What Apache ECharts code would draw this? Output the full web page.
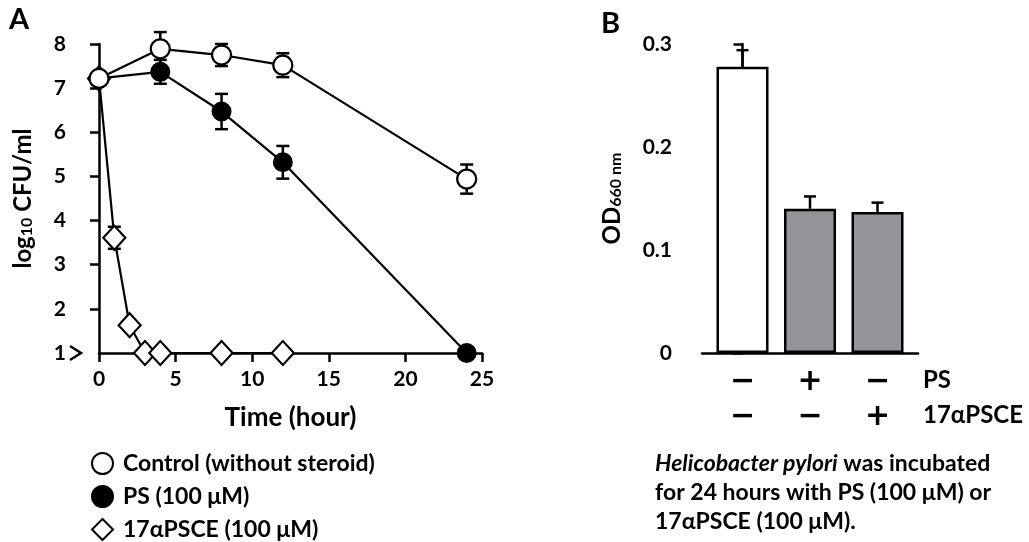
<!DOCTYPE html>
<html>
<head>
<meta charset="utf-8">
<script src="https://cdn.jsdelivr.net/npm/echarts@6/dist/echarts.min.js"></script>
<style>
  html, body { margin: 0; padding: 0; background: #fff; }
  #chart { width: 1029px; height: 542px; }
</style>
</head>
<body>
<div id="chart"></div>
<script>
// ---- Panel A: viability time course (log10 CFU/ml) ----
const controlPoints = [[0, 7.22], [4, 7.89], [8, 7.75], [12, 7.52], [24, 4.94]];
const controlErr = [0, 0.38, 0.25, 0.27, 0.33];
const psPoints = [[0, 7.22], [4, 7.37], [8, 6.47], [12, 5.32], [24, 1.0]];
const psErr = [0, 0.27, 0.40, 0.37, 0];
const psceCurvePoints = [[0, 7.22], [1, 3.61], [2, 1.63], [3, 1.0], [4, 1.0], [8, 1.0], [12, 1.0]];
const psceErr = [0, 0.25, 0, 0, 0, 0, 0];
const xTicksA = [0, 5, 10, 15, 20, 25];
const yTicksA = [1, 2, 3, 4, 5, 6, 7, 8];
const seriesNamesA = ['Control (without steroid)', 'PS (100 μM)', '17αPSCE (100 μM)'];

// ---- Panel B: OD660 after 24 h ----
const barGroups = [0, 1, 2];
const odValues = [0.278, 0.140, 0.137];
const odErr = [0.016, 0.012, 0.009];
const psRow = ['−', '+', '−'];
const psceRow = ['−', '−', '+'];
const rowNames = ['PS', '17αPSCE'];

const FONT = 'Lato, "Open Sans", sans-serif';
const SIGN_FONT = '"DejaVu Sans", sans-serif';
const INK = '#000';
const GRAY = '#939598';

// layout of the two panels (pixels)
const A = { left: 99, right: 547, top: 44, bottom: 189, yOffset: 17 };
const B = { left: 702, right: 111, top: 44, bottom: 189, yOffset: 14 };

const chart = echarts.init(document.getElementById('chart'), null, { renderer: 'canvas' });

function errorBarItem(capHalf, upOnly) {
  return function (params, api) {
    const x = api.value(0), y = api.value(1), e = api.value(2);
    if (!e) return null;
    const top = api.coord([x, y + e]);
    const bot = api.coord([x, upOnly ? y : y - e]);
    const style = { stroke: INK, lineWidth: 2.5 };
    const children = [
      { type: 'line', shape: { x1: top[0], y1: top[1], x2: bot[0], y2: bot[1] }, style },
      { type: 'line', shape: { x1: top[0] - capHalf, y1: top[1], x2: top[0] + capHalf, y2: top[1] }, style }
    ];
    if (!upOnly) {
      children.push({ type: 'line', shape: { x1: bot[0] - capHalf, y1: bot[1], x2: bot[0] + capHalf, y2: bot[1] }, style });
    }
    return { type: 'group', children };
  };
}

function withErr(points, errs) {
  return points.map((p, i) => [p[0], p[1], errs[i]]);
}

const axisLine = { lineStyle: { color: INK, width: 2.5 } };
const labelFont = { fontFamily: FONT, fontWeight: 'bold', fontSize: 21, color: INK };
const titleRich = {
  a: { fontFamily: FONT, fontWeight: 'bold', fontSize: 24, color: INK, lineHeight: 28, verticalAlign: 'bottom' },
  s: { fontFamily: FONT, fontWeight: 'bold', fontSize: 16, color: INK, lineHeight: 18, verticalAlign: 'bottom' }
};

const option = {
  animation: false,
  backgroundColor: '#fff',
  grid: [
    { left: A.left, right: A.right, top: A.top, bottom: A.bottom },
    { left: B.left, right: B.right, top: B.top, bottom: B.bottom }
  ],
  xAxis: [
    {
      gridIndex: 0, type: 'value', min: 0, max: 25, interval: 5,
      name: 'Time (hour)', nameLocation: 'middle', nameGap: 52,
      nameTextStyle: { fontFamily: FONT, fontWeight: 'bold', fontSize: 26, color: INK },
      axisLine, splitLine: { show: false },
      axisTick: { show: true, inside: false, length: 9, lineStyle: { color: INK, width: 2.5 } },
      axisLabel: Object.assign({ margin: 16, customValues: xTicksA }, labelFont)
    },
    {
      gridIndex: 1, type: 'value', min: -0.6, max: 2.6,
      axisLine, splitLine: { show: false }, axisTick: { show: false },
      axisLabel: {
        customValues: barGroups, margin: 12, lineHeight: 35,
        formatter: v => '{s|' + psRow[v] + '}\n{s|' + psceRow[v] + '}',
        rich: { s: { fontFamily: SIGN_FONT, fontWeight: 'bold', fontSize: 30, color: INK, lineHeight: 35 } }
      }
    }
  ],
  yAxis: [
    {
      gridIndex: 0, type: 'value', min: 1, max: 8, interval: 1, offset: A.yOffset,
      name: '{a|log}{s|10}{a| CFU/ml}', nameLocation: 'middle', nameGap: 47, nameRotate: 90,
      nameTextStyle: { rich: titleRich },
      axisLine, splitLine: { show: false },
      axisTick: { show: true, length: 9, customValues: yTicksA.slice(1), lineStyle: { color: INK, width: 2.5 } },
      axisLabel: Object.assign({ margin: 16, customValues: yTicksA }, labelFont)
    },
    {
      gridIndex: 1, type: 'value', min: 0, max: 0.3, interval: 0.1, offset: B.yOffset,
      name: '{a|OD}{s|660 nm}', nameLocation: 'middle', nameGap: 64, nameRotate: 90,
      nameTextStyle: { rich: titleRich },
      axisLine, splitLine: { show: false },
      axisTick: { show: true, length: 9, lineStyle: { color: INK, width: 2.5 } },
      axisLabel: Object.assign({ margin: 16, formatter: v => (v === 0 ? '0' : v.toFixed(1)) }, labelFont)
    }
  ],
  legend: {
    orient: 'vertical', left: 91, top: 452, padding: 0, itemGap: 10,
    itemWidth: 21, itemHeight: 21,
    textStyle: { fontFamily: FONT, fontWeight: 'bold', fontSize: 23, color: INK, lineHeight: 21, padding: [0, 0, 0, 5] },
    data: [
      { name: seriesNamesA[0], icon: 'circle' },
      { name: seriesNamesA[1], icon: 'circle' },
      { name: seriesNamesA[2], icon: 'diamond' }
    ]
  },
  series: [
    { type: 'custom', xAxisIndex: 0, yAxisIndex: 0, z: 1, renderItem: errorBarItem(6.5, false), data: withErr(controlPoints, controlErr), silent: true },
    { type: 'custom', xAxisIndex: 0, yAxisIndex: 0, z: 1, renderItem: errorBarItem(6.5, false), data: withErr(psPoints, psErr), silent: true },
    { type: 'custom', xAxisIndex: 0, yAxisIndex: 0, z: 1, renderItem: errorBarItem(6.5, false), data: withErr(psceCurvePoints, psceErr), silent: true },
    {
      name: seriesNamesA[2], type: 'line', xAxisIndex: 0, yAxisIndex: 0, z: 3,
      data: psceCurvePoints, symbol: 'diamond', symbolSize: [22, 24],
      itemStyle: { color: '#fff', borderColor: INK, borderWidth: 2.2 },
      lineStyle: { color: INK, width: 2.2 }
    },
    {
      name: seriesNamesA[1], type: 'line', xAxisIndex: 0, yAxisIndex: 0, z: 4,
      data: psPoints, symbol: 'circle', symbolSize: 18,
      itemStyle: { color: INK, borderColor: INK, borderWidth: 2 },
      lineStyle: { color: INK, width: 2.2 }
    },
    {
      name: seriesNamesA[0], type: 'line', xAxisIndex: 0, yAxisIndex: 0, z: 5,
      data: controlPoints, symbol: 'circle', symbolSize: 19,
      itemStyle: { color: '#fff', borderColor: INK, borderWidth: 2.2 },
      lineStyle: { color: INK, width: 2.2 }
    },
    {
      type: 'bar', xAxisIndex: 1, yAxisIndex: 1, barWidth: 52, z: 3,
      data: barGroups.map((g, i) => ({
        value: [g, odValues[i]],
        itemStyle: { color: i === 0 ? '#fff' : GRAY, borderColor: INK, borderWidth: 2.5 }
      }))
    },
    {
      type: 'custom', xAxisIndex: 1, yAxisIndex: 1, z: 2, silent: true,
      renderItem: errorBarItem(6, true),
      data: barGroups.map((g, i) => [g, odValues[i], odErr[i]])
    }
  ],
  graphic: [
    { type: 'text', left: 9, top: 5, style: { text: 'A', fontFamily: FONT, fontWeight: 'bold', fontSize: 29, fill: INK } },
    { type: 'text', left: 601, top: 9, style: { text: 'B', fontFamily: FONT, fontWeight: 'bold', fontSize: 29, fill: INK } },
    { type: 'text', left: 923, top: 368, style: { text: rowNames[0], fontFamily: FONT, fontWeight: 'bold', fontSize: 24, fill: INK } },
    { type: 'text', left: 923, top: 403, style: { text: rowNames[1], fontFamily: FONT, fontWeight: 'bold', fontSize: 24, fill: INK } },
    {
      type: 'text', left: 655, top: 452,
      style: {
        text: '{i|Helicobacter pylori}{n| was incubated}\n{n|for 24 hours with PS (100 μM) or}\n{n|17αPSCE (100 μM).}',
        rich: {
          i: { fontFamily: FONT, fontWeight: 'bold', fontStyle: 'italic', fontSize: 23, fill: INK, lineHeight: 29 },
          n: { fontFamily: FONT, fontWeight: 'bold', fontSize: 23, fill: INK, lineHeight: 29 }
        }
      }
    }
  ]
};

chart.setOption(option);

// broken-axis chevron at the foot of the panel A y axis
const yBase = chart.convertToPixel({ yAxisIndex: 0 }, 1);
const axisX = A.left - A.yOffset;
chart.setOption({
  graphic: option.graphic.concat([{
    type: 'polyline', silent: true,
    shape: { points: [[axisX - 12, yBase - 7], [axisX - 1, yBase], [axisX - 12, yBase + 7]] },
    style: { stroke: INK, lineWidth: 2.5, fill: null }
  }])
});
</script>
</body>
</html>
